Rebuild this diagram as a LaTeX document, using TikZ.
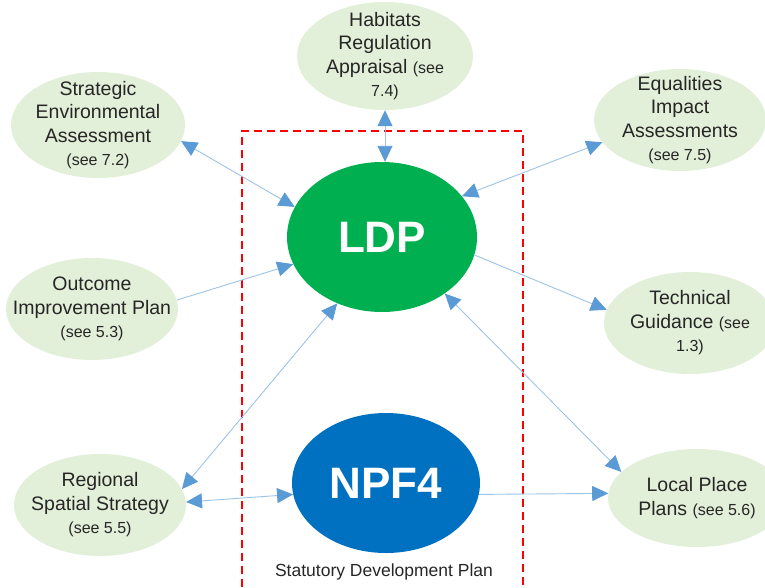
\documentclass[tikz,border=0pt]{standalone}
\usepackage{fontspec}
\setmainfont{Liberation Sans}
\usetikzlibrary{positioning, shapes, arrows.meta}
\definecolor{studyfill}{HTML}{E2EFD9}
\definecolor{ldpgreen}{HTML}{00B050}
\definecolor{npfblue}{HTML}{0070C0}
\definecolor{linkblue}{HTML}{9DC3E6}
\definecolor{tipblue}{HTML}{5B9BD5}
\newcommand{\seeref}[1]{{\fontsize{16}{23.5}\selectfont #1}}

\begin{document}
\begin{tikzpicture}[x=1pt, y=-1pt, every node/.style={font=\fontsize{19.5}{23.5}\selectfont}]
  % Styles
  \tikzset{
    study/.style={ellipse, fill=studyfill, inner xsep=-45pt, inner ysep=-30pt, align=center, text=black!85, minimum width=172pt, minimum height=102pt},
    plan/.style={ellipse, inner sep=0pt, text=white, font=\bfseries\fontsize{44}{50}\selectfont},
    link/.style={draw=linkblue, line width=0.9pt, >={Triangle[length=16pt, width=15pt, color=tipblue]}}
  }
  \clip (0,0) rectangle (765,587);

  % Statutory development plan frame
  \draw[red, line width=1.4pt, dash pattern=on 8pt off 5pt] (242,600) |- (523,131) -- (523,600);

  % Plans
  \node[plan, fill=ldpgreen, minimum width=190pt, minimum height=150pt] (ldp) at (382,237) {LDP};
  \node[plan, fill=npfblue, minimum width=188pt, minimum height=140pt] (npf) at (386,483) {NPF4};
  \node[font=\fontsize{17.5}{20}\selectfont, text=black!85] (sdp) at (384,572) {Statutory Development Plan};

  % Assessments and related plans
  \node[study, minimum width=176pt, minimum height=108pt] (hra) at (385,56) {Habitats\\Regulation\\Appraisal \seeref{(see}\\\seeref{7.4)}};
  \node[study, minimum width=174pt, minimum height=106pt] (sea) at (98,125) {Strategic\\Environmental\\Assessment\\\seeref{(see 7.2)}};
  \node[study] (eqia) at (680,120) {Equalities\\Impact\\Assessments\\\seeref{(see 7.5)}};
  \node[study] (oip) at (92,309) {Outcome\\Improvement Plan\\\seeref{(see 5.3)}};
  \node[study] (tg) at (690,323) {Technical\\Guidance \seeref{(see}\\\seeref{1.3)}};
  \node[study] (rss) at (100,505) {Regional\\Spatial Strategy\\\seeref{(see 5.5)}};
  \node[study, minimum width=178pt, minimum height=98pt] (lpp) at (697,498) {Local Place\\Plans \seeref{(see 5.6)}};

  % Links to the LDP
  \draw[link, <->] (hra.south) -- (hra.south |- ldp.north);
  \draw[link, <->] (sea.-11) -- (ldp.161);
  \draw[link, <->] (eqia.196) -- (ldp.27);
  \draw[link, ->] (oip.6) -- (ldp.197);
  \draw[link, ->] (ldp.-11) -- (tg.171);
  \draw[link, <->] (rss.11) -- (ldp.236);
  \draw[link, <->] (ldp.-42) -- (lpp.161);

  % Links to NPF4
  \draw[link, <->] (rss.2) -- (npf.187);
  \draw[link, ->] (npf.-7) -- (lpp.177);
\end{tikzpicture}
\end{document}
